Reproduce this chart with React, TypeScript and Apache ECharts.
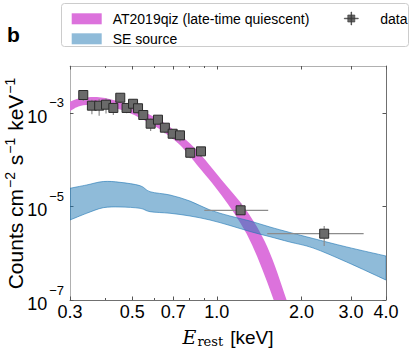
import React, { useEffect, useRef } from "react";
import * as echarts from "echarts";

// ---- axis ticks ----
const xTickValues = [0.3, 0.5, 0.7, 1.0, 2.0, 3.0, 4.0];
const xMinorTickValues = [0.4, 0.6, 0.8, 0.9];
const yTickExponents = [-7, -5, -3];

// ---- AT2019qiz (late-time quiescent) band ----
const qizEnergy = [0.300, 0.326, 0.374, 0.428, 0.491, 0.563, 0.644, 0.739, 0.847, 1.040, 1.276, 1.511, 1.771, 1.976];
const qizUpper = [1.73e-3, 2.04e-3, 2.18e-3, 1.88e-3, 1.47e-3, 9.8e-4, 6.3e-4, 3.36e-4, 1.60e-4, 3.66e-5, 8.1e-6, 1.38e-6, 1.0e-7, 1.1e-8];
const qizLower = [1.09e-3, 1.40e-3, 1.50e-3, 1.29e-3, 9.8e-4, 6.5e-4, 3.95e-4, 2.05e-4, 7.9e-5, 1.72e-5, 2.6e-6, 2.4e-7, 1.4e-8, 1.0e-9];

// ---- SE source band ----
const seEnergy = [0.300, 0.344, 0.394, 0.452, 0.533, 0.578, 0.681, 0.802, 0.945, 1.113, 1.311, 1.545, 1.820, 2.202, 2.896, 4.0];
const seUpper = [2.44e-5, 2.87e-5, 3.40e-5, 3.27e-5, 2.77e-5, 2.06e-5, 1.75e-5, 1.30e-5, 8.38e-6, 6.24e-6, 4.88e-6, 3.63e-6, 2.77e-6, 2.06e-6, 1.36e-6, 8.71e-7];
const seLower = [5.12e-6, 7.13e-6, 9.38e-6, 9.71e-6, 9.10e-6, 7.71e-6, 7.13e-6, 6.24e-6, 5.12e-6, 3.91e-6, 2.91e-6, 2.25e-6, 1.73e-6, 1.29e-6, 6.49e-7, 2.67e-7];

// ---- data points ----
const dataEnergy = [0.3345, 0.359, 0.381, 0.403, 0.428, 0.453, 0.477, 0.503, 0.524, 0.547, 0.581, 0.617, 0.653, 0.696, 0.739, 0.804, 0.878, 1.215, 2.41];
const dataEnergyLo = [0.3345, 0.359, 0.381, 0.403, 0.428, 0.453, 0.477, 0.503, 0.524, 0.547, 0.581, 0.617, 0.653, 0.696, 0.739, 0.804, 0.878, 0.902, 1.511];
const dataEnergyHi = [0.3345, 0.359, 0.381, 0.403, 0.428, 0.453, 0.477, 0.503, 0.524, 0.547, 0.581, 0.617, 0.653, 0.696, 0.739, 0.804, 0.878, 1.523, 3.33];
const dataFlux = [2.40e-3, 1.42e-3, 1.42e-3, 1.49e-3, 1.27e-3, 2.10e-3, 1.27e-3, 1.56e-3, 1.25e-3, 8.97e-4, 5.85e-4, 7.13e-4, 4.81e-4, 3.57e-4, 3.30e-4, 1.40e-4, 1.50e-4, 8.26e-6, 2.61e-6];
const dataFluxLo = [1.79e-3, 9.3e-4, 8.7e-4, 9.7e-4, 9.0e-4, 1.59e-3, 9.8e-4, 1.14e-3, 9.3e-4, 7.0e-4, 4.08e-4, 5.49e-4, 3.64e-4, 2.75e-4, 2.42e-4, 1.07e-4, 1.14e-4, 6.55e-6, 1.43e-6];
const dataFluxHi = [3.01e-3, 1.91e-3, 1.97e-3, 2.01e-3, 1.64e-3, 2.61e-3, 1.56e-3, 1.98e-3, 1.57e-3, 1.09e-3, 7.62e-4, 8.77e-4, 5.98e-4, 4.39e-4, 4.18e-4, 1.73e-4, 1.86e-4, 1.16e-5, 3.81e-6];

const lg = (v: number) => Math.log10(v);

const QIZ_COLOR = "#dc72dc";
const SE_FILL = "rgba(31,119,180,0.5)";
const SE_EDGE = "rgba(31,119,180,0.6)";
const SANS = '"Liberation Sans", Arial, sans-serif';
const SERIF = '"DejaVu Serif", "Liberation Serif", serif';

// Catmull-Rom spline through screen points, as cubic Bezier path commands
function splinePath(pts: number[][], start: "M" | "L"): string {
  let d = `${start}${pts[0][0]},${pts[0][1]}`;
  for (let i = 0; i < pts.length - 1; i++) {
    const p0 = pts[Math.max(i - 1, 0)];
    const p1 = pts[i];
    const p2 = pts[i + 1];
    const p3 = pts[Math.min(i + 2, pts.length - 1)];
    const c1x = p1[0] + (p2[0] - p0[0]) / 6;
    const c1y = p1[1] + (p2[1] - p0[1]) / 6;
    const c2x = p2[0] - (p3[0] - p1[0]) / 6;
    const c2y = p2[1] - (p3[1] - p1[1]) / 6;
    d += `C${c1x},${c1y},${c2x},${c2y},${p2[0]},${p2[1]}`;
  }
  return d;
}

function bandSeries(
  name: string,
  energy: number[],
  lower: number[],
  upper: number[],
  fill: string,
  edge: string | null,
  z: number
) {
  return {
    type: "custom",
    name,
    xAxisIndex: 0,
    yAxisIndex: 0,
    clip: true,
    z,
    itemStyle: { color: fill },
    encode: { x: 0, y: 1 },
    data: [[lg(energy[0]), lg(upper[0])]],
    renderItem: (params: any, api: any) => {
      const up = energy.map((e, i) => api.coord([lg(e), lg(upper[i])]));
      const lo = energy.map((e, i) => api.coord([lg(e), lg(lower[i])])).reverse();
      const pathData = splinePath(up, "M") + splinePath(lo, "L") + "Z";
      return {
        type: "path",
        shape: { pathData },
        style: {
          fill,
          stroke: edge || "none",
          lineWidth: edge ? 1 : 0,
        },
      };
    },
  };
}

export default function App() {
  const ref = useRef<HTMLDivElement>(null);

  useEffect(() => {
    if (!ref.current) return;
    const chart = echarts.init(ref.current, null, { renderer: "svg" });

    const xMin = lg(0.3);
    const xMax = lg(4.0);
    const xMajor = xTickValues.map(lg);
    const xMinor = xMinorTickValues.map(lg);

    const xAxisBase = {
      type: "value",
      min: xMin,
      max: xMax,
      gridIndex: 0,
      splitLine: { show: false },
    };
    const tickStyle = { color: "#555", width: 1 };

    const option: any = {
      animation: false,
      grid: { left: 70, top: 66, width: 316, height: 234, containLabel: false, outerBoundsMode: "none" },
      graphic: [
        {
          type: "rect",
          left: 61,
          top: 3,
          z: 0,
          shape: { width: 347, height: 43, r: 3 },
          style: { fill: "#ffffff", stroke: "#cccccc", lineWidth: 1 },
        },
        {
          type: "text",
          left: 7,
          top: 24,
          style: { text: "b", font: 'bold 21px "Liberation Sans", Arial, sans-serif', fill: "#000" },
        },
      ],
      legend: [
        {
          orient: "vertical",
          left: 66.7,
          top: 5.8,
          itemWidth: 30,
          itemHeight: 11,
          itemGap: 4,
          z: 5,
          textStyle: { fontSize: 14, fontFamily: SANS, color: "#000", lineHeight: 16, padding: [0, 0, 0, 6] },
          data: [
            { name: "AT2019qiz (late-time quiescent)", icon: "rect", itemStyle: { color: QIZ_COLOR, borderWidth: 0 } },
            { name: "SE source", icon: "rect", itemStyle: { color: SE_FILL, borderWidth: 0 } },
          ],
        },
        {
          orient: "vertical",
          left: 339,
          top: 5.5,
          itemWidth: 14,
          itemHeight: 13,
          z: 5,
          textStyle: { fontSize: 14, fontFamily: SANS, color: "#000", lineHeight: 16, padding: [0, 0, 0, 17] },
          data: [
            {
              name: "data",
              icon: "path://M0,6.2H14V6.8H0Z M6.7,0H7.3V13H6.7Z M3.5,3H10.5V10H3.5Z",
              itemStyle: { color: "#6a6a6a", borderColor: "#333", borderWidth: 0.6 },
            },
          ],
        },
      ],
      xAxis: [
        {
          ...xAxisBase,
          position: "bottom",
          name: "{e|E}{sub|rest}{k|[keV]}",
          nameLocation: "middle",
          nameGap: 26,
          nameTextStyle: {
            rich: {
              e: { fontFamily: SERIF, fontStyle: "italic", fontSize: 19, color: "#000", lineHeight: 22 },
              sub: { fontFamily: SERIF, fontSize: 13, color: "#000", padding: [9, 0, 0, 1] },
              k: { fontFamily: SANS, fontSize: 19, color: "#000", lineHeight: 22, padding: [0, 0, 0, 7] },
            },
          },
          axisLine: { show: true, onZero: false, lineStyle: { color: "#707070", width: 1 } },
          axisTick: { show: true, inside: true, length: 3.5, customValues: xMajor, lineStyle: tickStyle },
          axisLabel: {
            show: true,
            customValues: xMajor,
            margin: 3,
            fontSize: 18,
            fontFamily: SANS,
            color: "#000",
            formatter: (v: number) => Math.pow(10, v).toFixed(1),
          },
        },
        {
          ...xAxisBase,
          position: "bottom",
          axisLine: { show: false, onZero: false },
          axisTick: { show: true, inside: true, length: 2, customValues: xMinor, lineStyle: tickStyle },
          axisLabel: { show: false },
        },
        {
          ...xAxisBase,
          position: "top",
          axisLine: { show: true, onZero: false, lineStyle: { color: "#b0b0b0", width: 1 } },
          axisTick: { show: true, inside: true, length: 3.5, customValues: xMajor, lineStyle: tickStyle },
          axisLabel: { show: false },
        },
        {
          ...xAxisBase,
          position: "top",
          axisLine: { show: false, onZero: false },
          axisTick: { show: true, inside: true, length: 2, customValues: xMinor, lineStyle: tickStyle },
          axisLabel: { show: false },
        },
      ],
      yAxis: [
        {
          type: "value",
          min: -7,
          max: -2,
          position: "left",
          splitLine: { show: false },
          name: "{t|Counts cm}{s|−2}{t| s}{s|−1}{t| keV}{s|−1}",
          nameLocation: "middle",
          nameGap: 42,
          nameMoveOverlap: false,
          nameTextStyle: {
            rich: {
              t: { fontFamily: SANS, fontSize: 21, color: "#000", lineHeight: 23 },
              s: { fontFamily: SANS, fontSize: 14, color: "#000", padding: [0, 1, 11, 1] },
            },
          },
          axisLine: { show: true, onZero: false, lineStyle: { color: "#b0b0b0", width: 1 } },
          axisTick: { show: true, inside: true, length: 3.5, customValues: yTickExponents, lineStyle: tickStyle },
          axisLabel: {
            show: true,
            customValues: yTickExponents,
            margin: 6,
            formatter: (v: number) => `{b|10}{s|−${Math.abs(Math.round(v))}}`,
            rich: {
              b: { fontFamily: SANS, fontSize: 18, color: "#000", lineHeight: 20, padding: [8, 0, 0, 0] },
              s: { fontFamily: SANS, fontSize: 13, color: "#000", padding: [0, 0, 20, 2] },
            },
          },
        },
        {
          type: "value",
          min: -7,
          max: -2,
          position: "right",
          splitLine: { show: false },
          axisLine: { show: true, onZero: false, lineStyle: { color: "#707070", width: 1 } },
          axisTick: { show: true, inside: true, length: 3.5, customValues: yTickExponents, lineStyle: tickStyle },
          axisLabel: { show: false },
        },
      ],
      series: [
        bandSeries("AT2019qiz (late-time quiescent)", qizEnergy, qizLower, qizUpper, QIZ_COLOR, null, 2),
        bandSeries("SE source", seEnergy, seLower, seUpper, SE_FILL, SE_EDGE, 3),
        {
          type: "custom",
          name: "data_err",
          xAxisIndex: 0,
          yAxisIndex: 0,
          z: 4,
          encode: { x: 0, y: 1 },
          data: dataEnergy.map((e, i) => [
            lg(e),
            lg(dataFlux[i]),
            lg(dataFluxLo[i]),
            lg(dataFluxHi[i]),
            lg(dataEnergyLo[i]),
            lg(dataEnergyHi[i]),
          ]),
          renderItem: (params: any, api: any) => {
            const x = api.value(0);
            const y = api.value(1);
            const yl = api.coord([x, api.value(2)]);
            const yh = api.coord([x, api.value(3)]);
            const xl = api.coord([api.value(4), y]);
            const xh = api.coord([api.value(5), y]);
            const style = { stroke: "#8c8c8c", lineWidth: 1.2 };
            return {
              type: "group",
              children: [
                { type: "line", shape: { x1: yl[0], y1: yl[1], x2: yh[0], y2: yh[1] }, style },
                { type: "line", shape: { x1: xl[0], y1: xl[1], x2: xh[0], y2: xh[1] }, style },
              ],
            };
          },
        },
        {
          type: "scatter",
          name: "data",
          xAxisIndex: 0,
          yAxisIndex: 0,
          z: 5,
          symbol: "rect",
          symbolSize: 9,
          itemStyle: { color: "#6a6a6a", borderColor: "#2b2b2b", borderWidth: 1, opacity: 1 },
          data: dataEnergy.map((e, i) => [lg(e), lg(dataFlux[i])]),
        },
      ],
    };

    chart.setOption(option);
    return () => chart.dispose();
  }, []);

  return (
    <div
      ref={ref}
      style={{ position: "absolute", left: 0, top: 0, width: 410, height: 349, background: "#fff" }}
    />
  );
}
